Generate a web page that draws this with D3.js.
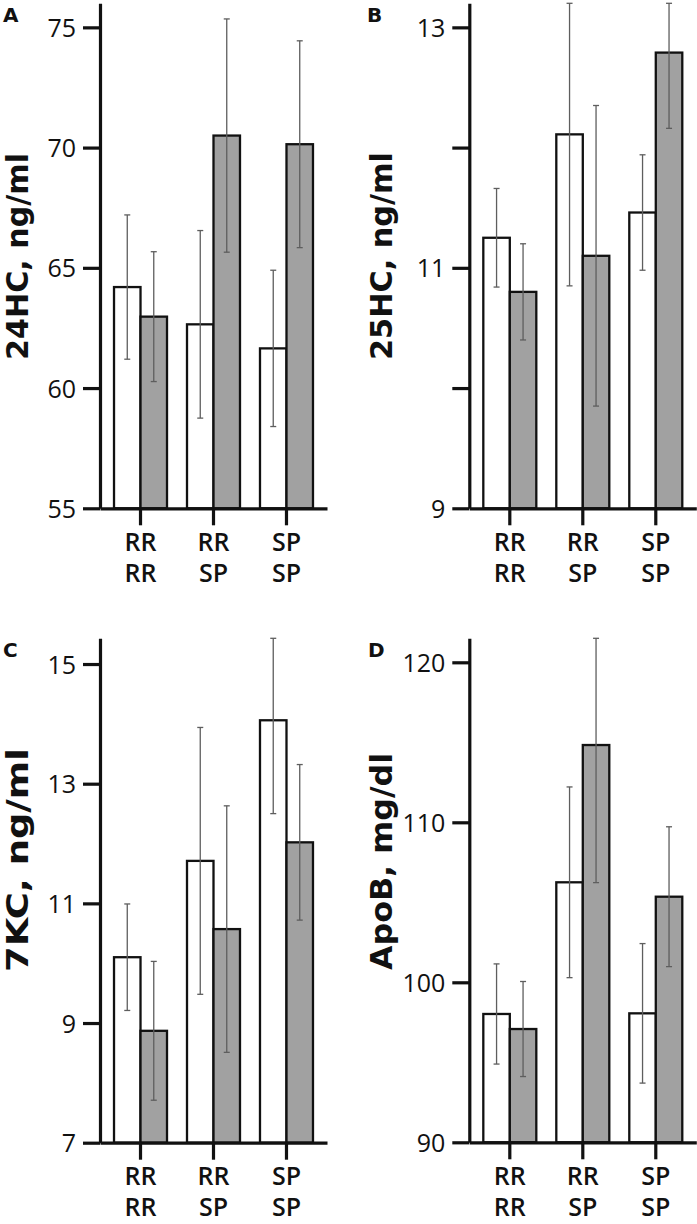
<!DOCTYPE html>
<html>
<head>
<meta charset="utf-8">
<script src="https://cdn.jsdelivr.net/npm/d3@7"></script>
<style>
  html, body { margin: 0; padding: 0; background: #fff; }
  svg { display: block; }
</style>
</head>
<body>
<svg id="chart" width="697" height="1224"></svg>
<script>
// ---------- DATA ----------
const groupLine1 = ["RR", "RR", "SP"];
const groupLine2 = ["RR", "SP", "SP"];
const seriesKeys = ["white", "gray"];

const titlesY = ["24HC, ng/ml", "25HC, ng/ml", "7KC, ng/ml", "ApoB, mg/dl"];
const panelLetters = ["A", "B", "C", "D"];

// Panel A: 24HC
const aWhite = [64.2, 62.65, 61.65];
const aWhiteErr = [3.0, 3.9, 3.25];
const aGray = [62.97, 70.5, 70.14];
const aGrayErr = [2.7, 4.85, 4.3];
const aTicks = [55, 60, 65, 70, 75];
const aTickLabels = [55, 60, 65, 70, 75];

// Panel B: 25HC
const bWhite = [11.25, 12.11, 11.46];
const bWhiteErr = [0.41, 1.26, 0.48];
const bGray = [10.80, 11.10, 12.79];
const bGrayErr = [0.40, 1.25, 0.63];
const bTicks = [9, 10, 11, 12, 13];
const bTickLabels = [9, 11, 13];

// Panel C: 7KC
const cWhite = [10.10, 11.71, 14.06];
const cWhiteErr = [0.89, 2.23, 1.56];
const cGray = [8.87, 10.57, 12.02];
const cGrayErr = [1.16, 2.06, 1.30];
const cTicks = [7, 9, 11, 13, 15];
const cTickLabels = [7, 9, 11, 13, 15];

// Panel D: ApoB
const dWhite = [98.02, 106.25, 98.06];
const dWhiteErr = [3.13, 5.96, 4.36];
const dGray = [97.08, 114.83, 105.35];
const dGrayErr = [2.97, 8.6, 4.37];
const dTicks = [90, 100, 110, 120];
const dTickLabels = [90, 100, 110, 120];

// ---------- LAYOUT ----------
const panels = [
  { letter: panelLetters[0], title: titlesY[0], white: aWhite, whiteErr: aWhiteErr, gray: aGray, grayErr: aGrayErr,
    ticks: aTicks, labels: aTickLabels, domain: [55, 76.0],
    x0: 100, top: 3.3, bottom: 508.3, letterPos: [3, 22], titlePos: [28, 256.5], titleLen: 207 },
  { letter: panelLetters[1], title: titlesY[1], white: bWhite, whiteErr: bWhiteErr, gray: bGray, grayErr: bGrayErr,
    ticks: bTicks, labels: bTickLabels, domain: [9, 13.2],
    x0: 469.3, top: 3.3, bottom: 508.3, letterPos: [367, 22], titlePos: [392, 256], titleLen: 208 },
  { letter: panelLetters[2], title: titlesY[2], white: cWhite, whiteErr: cWhiteErr, gray: cGray, grayErr: cGrayErr,
    ticks: cTicks, labels: cTickLabels, domain: [7, 15.43],
    x0: 100, top: 638.3, bottom: 1142.7, letterPos: [3, 657], titlePos: [28, 860], titleLen: 224 },
  { letter: panelLetters[3], title: titlesY[3], white: dWhite, whiteErr: dWhiteErr, gray: dGray, grayErr: dGrayErr,
    ticks: dTicks, labels: dTickLabels, domain: [90, 121.5],
    x0: 469.3, top: 638.3, bottom: 1142.3, letterPos: [368, 657], titlePos: [392, 861.5], titleLen: 217 }
];

const plotWidth = 227;
const fills = { white: "#ffffff", gray: "#a1a1a1" };
const tickFont = "'Open Sans', 'Noto Sans', sans-serif";
const titleFont = "'DejaVu Sans', sans-serif";
const svg = d3.select("#chart");

panels.forEach(p => {
  const g = svg.append("g");
  const y = d3.scaleLinear().domain(p.domain).range([p.bottom, p.top]);
  const x = d3.scaleBand().domain([0, 1, 2]).range([p.x0, p.x0 + plotWidth])
    .paddingInner(20 / 73).paddingOuter(0.192);
  const xs = d3.scaleBand().domain(seriesKeys).range([0, x.bandwidth()]).padding(0);

  const rows = [];
  [0, 1, 2].forEach(i => {
    rows.push({ i, key: "white", v: p.white[i], e: p.whiteErr[i] });
    rows.push({ i, key: "gray", v: p.gray[i], e: p.grayErr[i] });
  });

  // bars
  g.selectAll("rect.bar").data(rows).join("rect")
    .attr("class", "bar")
    .attr("x", d => x(d.i) + xs(d.key))
    .attr("width", xs.bandwidth())
    .attr("y", d => y(d.v))
    .attr("height", d => y(p.domain[0]) - y(d.v))
    .attr("fill", d => fills[d.key])
    .attr("stroke", "#111")
    .attr("stroke-width", 2.3);

  // error bars
  const maxV = p.domain[1];
  const eb = g.selectAll("g.err").data(rows).join("g").attr("class", "err")
    .attr("stroke", "#5e5e5e").attr("stroke-width", 1.3);
  const cx = d => x(d.i) + xs(d.key) + xs.bandwidth() / 2;
  const hiY = d => y(Math.min(d.v + d.e, maxV));
  const loY = d => y(d.v - d.e);
  eb.append("line").attr("x1", cx).attr("x2", cx).attr("y1", hiY).attr("y2", loY);
  eb.append("line").attr("x1", d => cx(d) - 3).attr("x2", d => cx(d) + 3).attr("y1", hiY).attr("y2", hiY);
  eb.append("line").attr("x1", d => cx(d) - 3).attr("x2", d => cx(d) + 3).attr("y1", loY).attr("y2", loY);

  // y axis
  const yAxis = d3.axisLeft(y).tickValues(p.ticks).tickSize(17).tickSizeOuter(0).tickPadding(7)
    .tickFormat(d => p.labels.includes(d) ? d : "");
  const ya = g.append("g").attr("transform", `translate(${p.x0},0)`).call(yAxis);
  ya.select(".domain").attr("stroke", "#111").attr("stroke-width", 3.2);
  ya.selectAll(".tick line").attr("stroke", "#111").attr("stroke-width", 3.2);
  ya.selectAll(".tick text").attr("font-size", 25).attr("font-family", tickFont)
    .attr("fill", "#111").attr("dy", "0.36em");

  // x axis
  const xAxis = d3.axisBottom(x).tickSize(17).tickSizeOuter(0).tickFormat("");
  const xa = g.append("g").attr("transform", `translate(0,${p.bottom})`).call(xAxis);
  xa.select(".domain").attr("stroke", "#111").attr("stroke-width", 3.2);
  xa.selectAll(".tick line").attr("stroke", "#111").attr("stroke-width", 3.2);
  xa.selectAll(".tick").each(function(d) {
    const t = d3.select(this).append("text")
      .attr("text-anchor", "middle").attr("font-family", tickFont)
      .attr("font-size", 25).attr("font-weight", 600).attr("fill", "#111");
    t.append("tspan").attr("x", 0).attr("y", 42.5).text(groupLine1[d]);
    t.append("tspan").attr("x", 0).attr("y", 73.5).text(groupLine2[d]);
  });

  // y title
  g.append("text")
    .attr("transform", `translate(${p.titlePos[0]},${p.titlePos[1]}) rotate(-90)`)
    .attr("text-anchor", "middle")
    .attr("font-family", titleFont)
    .attr("font-size", 30).attr("font-weight", 700)
    .attr("textLength", p.titleLen).attr("lengthAdjust", "spacingAndGlyphs")
    .attr("fill", "#111")
    .text(p.title);

  // panel letter
  g.append("text")
    .attr("x", p.letterPos[0]).attr("y", p.letterPos[1])
    .attr("font-family", titleFont)
    .attr("font-size", 20).attr("font-weight", 700).attr("fill", "#111")
    .text(p.letter);
});
</script>
</body>
</html>
